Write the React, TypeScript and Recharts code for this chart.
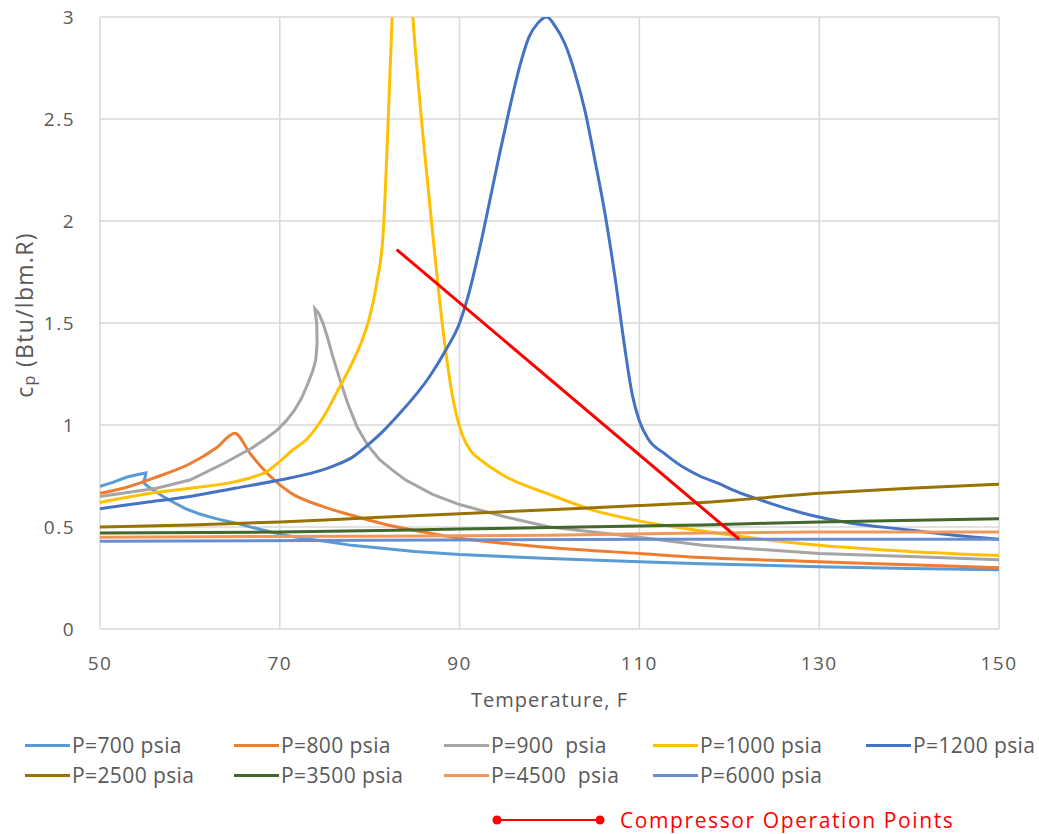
import { LineChart, Line, XAxis, YAxis, CartesianGrid, Label } from "recharts";

// [temperature F, cp Btu/lbm.R]
const p700 = [
  [50, 0.7], [51.5, 0.72], [53, 0.745], [54.5, 0.76], [55.1, 0.765], [55.0, 0.74],
  [54.8, 0.72], [55.3, 0.7], [56.3, 0.67], [57.2, 0.645], [58, 0.625], [59.5, 0.59],
  [61, 0.565], [63, 0.54], [65, 0.52], [67, 0.497], [70, 0.465], [72.5, 0.445],
  [75, 0.43], [78, 0.41], [85, 0.38], [90, 0.365], [100, 0.345], [110, 0.33],
  [117, 0.32], [130, 0.305], [140, 0.297], [150, 0.29],
];
const p800 = [
  [50, 0.665], [52.6, 0.69], [56.3, 0.745], [60, 0.81], [63, 0.89], [65, 0.96],
  [66.7, 0.86], [68.9, 0.75], [71.1, 0.67], [74.8, 0.6], [77.8, 0.56], [82, 0.51],
  [86, 0.475], [90, 0.445], [95, 0.42], [100, 0.4], [110, 0.37], [117, 0.35],
  [130, 0.33], [140, 0.315], [150, 0.3],
];
const p900 = [
  [50, 0.65], [56.3, 0.69], [60, 0.73], [63.7, 0.81], [67, 0.89], [68.5, 0.935],
  [69.7, 0.975], [70.7, 1.02], [71.6, 1.07], [72.4, 1.13], [73.1, 1.2], [73.7, 1.27],
  [74.0, 1.32], [74.15, 1.4], [74.1, 1.5], [73.9, 1.57], [74.3, 1.55], [74.8, 1.5],
  [75.3, 1.43], [75.8, 1.35], [76.7, 1.22], [77.6, 1.1], [78.6, 0.99], [79.8, 0.9],
  [81.1, 0.83], [82.5, 0.78], [84, 0.73], [87, 0.66], [90, 0.61], [95, 0.55],
  [100, 0.5], [110, 0.45], [117, 0.41], [130, 0.37], [140, 0.355], [150, 0.34],
];
const p1000 = [
  [50, 0.62], [56.3, 0.67], [60, 0.69], [64.8, 0.72], [67, 0.745], [68.5, 0.77],
  [69.7, 0.81], [71.5, 0.88], [73, 0.93], [75, 1.05], [76.7, 1.19], [78, 1.3],
  [79.2, 1.42], [80, 1.53], [80.8, 1.7], [81.5, 1.94], [82, 2.43], [82.5, 3.0],
  [83, 3.4], [83.6, 3.8], [84.2, 3.4], [84.8, 3.0], [85.9, 2.43], [87, 1.94],
  [88.2, 1.45], [89.3, 1.12], [90.4, 0.94], [91.3, 0.87], [92.3, 0.83], [95, 0.75],
  [100, 0.66], [105, 0.58], [110, 0.53], [117, 0.48], [130, 0.41], [140, 0.38],
  [150, 0.36],
];
const p1200 = [
  [50, 0.59], [55, 0.62], [60, 0.65], [65, 0.69], [70, 0.73], [74, 0.77],
  [76, 0.8], [78, 0.84], [80, 0.91], [81.5, 0.97], [83, 1.04], [86.7, 1.24],
  [88.5, 1.37], [90, 1.5], [91, 1.64], [92.3, 1.88], [93.5, 2.13], [94.5, 2.34],
  [95.5, 2.54], [96.7, 2.76], [97.7, 2.9], [98.7, 2.97], [99.7, 3.0], [100.7, 2.95],
  [101.7, 2.87], [102.8, 2.73], [104, 2.53], [105, 2.31], [106.2, 2.03], [107.3, 1.72],
  [108.4, 1.37], [109.2, 1.15], [110, 1.02], [111, 0.93], [112.8, 0.86], [115, 0.79],
  [116.7, 0.75], [119, 0.71], [120.5, 0.68], [122.3, 0.65], [125, 0.61], [128, 0.57],
  [133.4, 0.52], [139, 0.49], [145, 0.46], [150, 0.44],
];
const p2500 = [
  [50, 0.5], [60, 0.51], [70, 0.525], [80, 0.545], [90, 0.565], [100, 0.585],
  [110, 0.605], [117, 0.62], [130, 0.665], [140, 0.69], [150, 0.71],
];
const p3500 = [
  [50, 0.47], [70, 0.475], [90, 0.49], [110, 0.505], [117, 0.51], [130, 0.525], [150, 0.54],
];
const p4500 = [
  [50, 0.45], [80, 0.455], [100, 0.46], [117, 0.47], [130, 0.475], [150, 0.475],
];
const p6000 = [
  [50, 0.43], [80, 0.435], [117, 0.44], [150, 0.44],
];
const operationPoints = [
  [83, 1.86], [121.1, 0.44],
];

const xTicks = [50, 70, 90, 110, 130, 150];
const yTicks = [0, 0.5, 1, 1.5, 2, 2.5, 3];

const series = [
  { name: "P=700 psia", color: "#5B9BD5", data: p700, curve: "linear" },
  { name: "P=800 psia", color: "#ED7D31", data: p800, curve: "monotoneX" },
  { name: "P=900  psia", color: "#A5A5A5", data: p900, curve: "linear" },
  { name: "P=1000 psia", color: "#FFC000", data: p1000, curve: "monotoneX" },
  { name: "P=1200 psia", color: "#4472C4", data: p1200, curve: "monotoneX" },
  { name: "P=2500 psia", color: "#997300", data: p2500, curve: "monotoneX" },
  { name: "P=3500 psia", color: "#43682B", data: p3500, curve: "monotoneX" },
  { name: "P=4500  psia", color: "#F1975A", data: p4500, curve: "monotoneX" },
  { name: "P=6000 psia", color: "#698ED0", data: p6000, curve: "monotoneX" },
];

const toPts = (arr: number[][]) => arr.map(([t, cp]) => ({ t, cp }));

const FONT = "'Open Sans', sans-serif";
const GREY = "#595959";

const legendLeft = [25, 234, 444, 653, 866];

function YTitle({ viewBox }: any) {
  const cx = viewBox.x + 24;
  const cy = viewBox.y + viewBox.height / 2 - 8;
  return (
    <text
      x={cx}
      y={cy}
      transform={`rotate(-90 ${cx} ${cy})`}
      textAnchor="middle"
      dominantBaseline="central"
      fill={GREY}
      fontSize={23}
      fontFamily={FONT}
      letterSpacing={1.3}
    >
      c<tspan fontSize={16} dy={5}>p</tspan>
      <tspan dy={-5}> (Btu/lbm.R)</tspan>
    </text>
  );
}

function XTitle({ viewBox }: any) {
  return (
    <text
      x={viewBox.x + viewBox.width / 2}
      y={viewBox.y + 78}
      textAnchor="middle"
      fill={GREY}
      fontSize={20}
      fontFamily={FONT}
      letterSpacing={1}
    >
      Temperature, F
    </text>
  );
}

export default function App() {
  const tickStyle = { fill: GREY, fontSize: 19, fontFamily: FONT, letterSpacing: 1.5 };

  return (
    <div
      style={{
        position: "absolute",
        left: 0,
        top: 0,
        width: 1039,
        height: 834,
        background: "#fff",
        fontFamily: FONT,
      }}
    >
      <LineChart width={1039} height={720} margin={{ top: 17, right: 40, left: 0, bottom: 1 }}>
        <CartesianGrid stroke="#D9D9D9" strokeWidth={1.5} />
        <XAxis
          dataKey="t"
          type="number"
          domain={[50, 150]}
          ticks={xTicks}
          allowDataOverflow
          axisLine={false}
          tickLine={false}
          tickSize={0}
          tickMargin={28}
          height={90}
          tick={tickStyle}
        >
          <Label content={<XTitle />} />
        </XAxis>
        <YAxis
          type="number"
          domain={[0, 3]}
          ticks={yTicks}
          allowDataOverflow
          axisLine={false}
          tickLine={false}
          tickSize={0}
          tickMargin={25}
          width={100}
          tick={tickStyle}
        >
          <Label content={<YTitle />} />
        </YAxis>
        {series.map((s) => (
          <Line
            key={s.name}
            data={toPts(s.data)}
            dataKey="cp"
            type={s.curve as any}
            stroke={s.color}
            strokeWidth={3}
            dot={false}
            activeDot={false}
            isAnimationActive={false}
          />
        ))}
        <Line
          data={toPts(operationPoints)}
          dataKey="cp"
          type="linear"
          stroke="#FF0000"
          strokeWidth={3}
          dot={false}
          activeDot={false}
          isAnimationActive={false}
        />
      </LineChart>

      {series.map((s, i) => {
        const row = i < 5 ? 0 : 1;
        const col = i < 5 ? i : i - 5;
        return (
          <div
            key={s.name}
            style={{
              position: "absolute",
              left: legendLeft[col],
              top: 745 + row * 30 - 15,
              height: 30,
              display: "flex",
              alignItems: "center",
              whiteSpace: "pre",
            }}
          >
            <div style={{ width: 45, height: 3, background: s.color, marginRight: 2 }} />
            <span style={{ fontSize: 21, color: GREY, letterSpacing: 0.4 }}>{s.name}</span>
          </div>
        );
      })}

      <div
        style={{
          position: "absolute",
          left: 492,
          top: 808,
          height: 24,
          display: "flex",
          alignItems: "center",
        }}
      >
        <svg width={114} height={12}>
          <line x1={5} y1={6} x2={108} y2={6} stroke="#FF0000" strokeWidth={2} />
          <circle cx={5} cy={6} r={4.5} fill="#FF0000" />
          <circle cx={108} cy={6} r={4.5} fill="#FF0000" />
        </svg>
        <span
          style={{
            fontSize: 21,
            lineHeight: "24px",
            color: "#FF0000",
            marginLeft: 14,
            letterSpacing: 1.6,
          }}
        >
          Compressor Operation Points
        </span>
      </div>
    </div>
  );
}
